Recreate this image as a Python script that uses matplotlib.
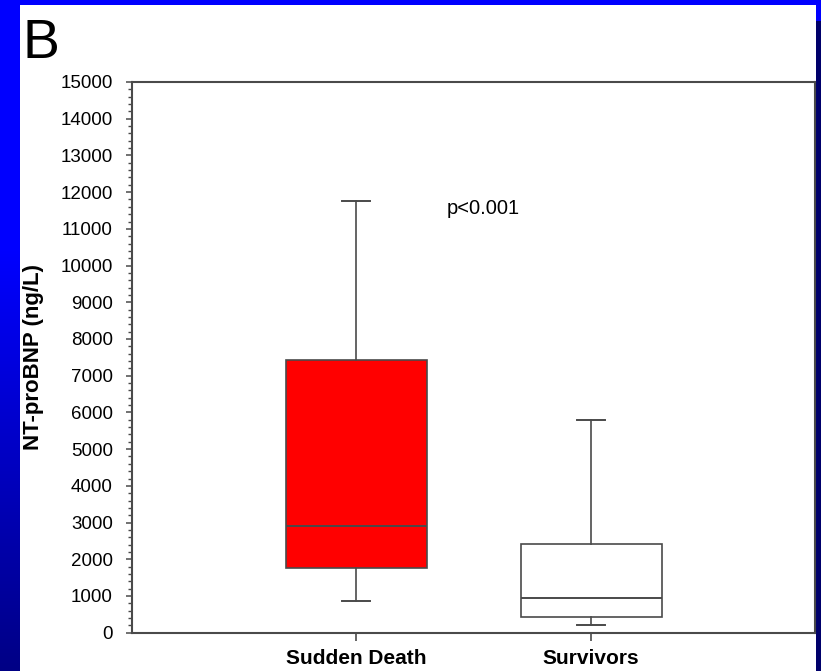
import matplotlib
matplotlib.use("Agg")
import matplotlib.pyplot as plt
import numpy as np

plt.rcParams['font.family'] = ['Liberation Sans', 'DejaVu Sans']

# NT-proBNP summary per group (ng/L)
groups = ["Sudden Death", "Survivors"]
whisker_low = [850, 200]
q1 = [1770, 440]
median = [2900, 940]
q3 = [7420, 2420]
whisker_high = [11750, 5800]
box_colors = ["#ff0000", "white"]

y_ticks = list(range(0, 15001, 1000))

W, H = 821, 671
fig = plt.figure(figsize=(W / 100, H / 100), dpi=100)

# slide background: blue frame darkening toward the bottom, white panel
bg = np.zeros((H, W, 3))
rows = np.arange(H)
blue = np.where(rows < 250, 1.0, 1.0 - (rows - 250) / (H - 250) * 0.48)
bg[:, :, 2] = blue[:, None]
bg[21:, 816:, 2] = 0.42
bg[5:, 20:816, :] = 1.0
ax_bg = fig.add_axes([0, 0, 1, 1], zorder=-5)
ax_bg.imshow(bg, aspect="auto", interpolation="nearest")
ax_bg.axis("off")

ax = fig.add_axes([131.7 / W, (H - 632.7) / H, (815 - 131.7) / W, (632.7 - 82) / H])
ax.set_facecolor("white")

stats = []
for i, g in enumerate(groups):
    stats.append(dict(label=g, med=median[i], q1=q1[i], q3=q3[i],
                      whislo=whisker_low[i], whishi=whisker_high[i], fliers=[]))

line_c = "#4a4a4a"
bp = ax.bxp(stats, positions=[1, 2], widths=0.6, capwidths=0.12, patch_artist=True,
            showfliers=False,
            boxprops=dict(edgecolor=line_c, linewidth=1.2),
            medianprops=dict(color=line_c, linewidth=1.4),
            whiskerprops=dict(color=line_c, linewidth=1.2),
            capprops=dict(color=line_c, linewidth=1.4))
for patch, c in zip(bp["boxes"], box_colors):
    patch.set_facecolor(c)

ax.set_xlim(0.0455, 2.953)
ax.set_ylim(0, 15000)
ax.set_yticks(y_ticks)
ax.set_yticks(range(0, 15001, 200), minor=True)
ax.set_xticks([1, 2])
ax.set_xticklabels(groups, fontsize=15, fontweight="bold")
ax.tick_params(axis="y", which="major", length=4.5, width=1.1, color=line_c,
               labelsize=13.5, pad=9)
ax.tick_params(axis="y", which="minor", length=2.8, width=1.0, color=line_c)
ax.tick_params(axis="x", length=6, width=1.2, color=line_c, pad=6)
for s in ax.spines.values():
    s.set_color(line_c)
    s.set_linewidth(1.5)

ax.set_ylabel("NT-proBNP (ng/L)", fontsize=16, fontweight="bold")
ax.yaxis.set_label_coords((44 - 131.7) / (815 - 131.7), 0.5)

ax.text(1.387, 11550, "p<0.001", fontsize=14.5, ha="left", va="center")

fig.text(22 / W, 1 - 18 / H, "B", fontsize=40, ha="left", va="top")

fig.savefig("out.png", dpi=100)
